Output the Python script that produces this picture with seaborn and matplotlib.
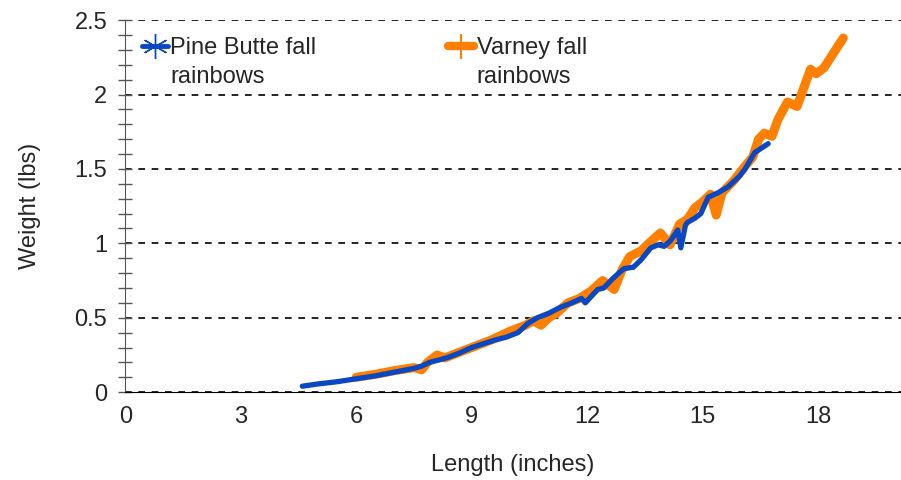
import pandas as pd
import seaborn as sns
import matplotlib.pyplot as plt
from matplotlib.lines import Line2D
from matplotlib.ticker import MultipleLocator

# Pine Butte fall rainbows
pine_len = [4.6, 5.0, 5.5, 6.0, 6.5, 7.0, 7.5, 7.7, 7.9, 8.2, 8.4, 8.7, 9.0, 9.3,
            9.6, 9.9, 10.2, 10.45, 10.7, 11.0, 11.3, 11.6, 11.85, 11.95, 12.27,
            12.43, 12.65, 12.82, 12.95, 13.2, 13.4, 13.65, 13.84, 14.0, 14.17,
            14.35, 14.43, 14.55, 14.6, 14.8, 14.95, 15.14, 15.4, 15.66, 15.95,
            16.1, 16.35, 16.7]
pine_wt = [0.04, 0.055, 0.07, 0.09, 0.11, 0.135, 0.16, 0.175, 0.20, 0.22, 0.235,
           0.265, 0.30, 0.325, 0.35, 0.37, 0.40, 0.46, 0.50, 0.53, 0.57, 0.60,
           0.63, 0.60, 0.69, 0.70, 0.76, 0.80, 0.83, 0.84, 0.89, 0.97, 0.99, 0.98,
           1.02, 1.09, 0.97, 1.12, 1.14, 1.17, 1.20, 1.31, 1.34, 1.38, 1.45,
           1.50, 1.61, 1.67]

# Varney fall rainbows
varney_len = [6.0, 6.5, 7.0, 7.5, 7.7, 7.85, 8.1, 8.3, 8.6, 9.0, 9.5, 10.0, 10.4,
              10.6, 10.8, 11.0, 11.2, 11.5, 11.8, 12.1, 12.4, 12.7, 12.9, 13.1,
              13.4, 13.6, 13.9, 14.15, 14.4, 14.6, 14.8, 15.0, 15.2, 15.35, 15.5,
              15.8, 16.1, 16.3, 16.45, 16.6, 16.8, 16.95, 17.2, 17.45, 17.8,
              17.95, 18.15, 18.65]
varney_wt = [0.10, 0.12, 0.145, 0.165, 0.15, 0.20, 0.25, 0.23, 0.26, 0.30, 0.35,
             0.41, 0.45, 0.48, 0.45, 0.50, 0.53, 0.60, 0.63, 0.68, 0.75, 0.69,
             0.82, 0.91, 0.95, 1.00, 1.07, 0.99, 1.13, 1.16, 1.24, 1.28, 1.33,
             1.19, 1.34, 1.42, 1.52, 1.58, 1.70, 1.74, 1.72, 1.83, 1.95, 1.92,
             2.17, 2.14, 2.18, 2.38]

x_ticks = [0, 3, 6, 9, 12, 15, 18]
y_ticks = [0, 0.5, 1, 1.5, 2, 2.5]
y_labels = ['0', '0.5', '1', '1.5', '2', '2.5']

sns.set_style('white')
plt.rcParams['font.family'] = ['Liberation Sans', 'DejaVu Sans']

blue = '#0a47c2'
orange = '#ff8000'
fs = 17

fig = plt.figure(figsize=(9.01, 4.8), dpi=100)
ax = fig.add_axes([0.139, 0.183, 0.861, 0.775])

pine = pd.DataFrame({'len': pine_len, 'wt': pine_wt})
varney = pd.DataFrame({'len': varney_len, 'wt': varney_wt})

sns.lineplot(data=varney, x='len', y='wt', color=orange, linewidth=6.5, sort=False,
             solid_capstyle='round', solid_joinstyle='round', ax=ax, zorder=3)
sns.lineplot(data=pine, x='len', y='wt', color=blue, linewidth=3.8, sort=False,
             solid_capstyle='round', solid_joinstyle='round', ax=ax, zorder=4)

ax.set_xlim(0, 20.15)
ax.set_ylim(0, 2.5)
ax.set_xticks(x_ticks)
ax.set_xticklabels([str(t) for t in x_ticks])
ax.set_yticks(y_ticks)
ax.set_yticklabels(y_labels)
ax.yaxis.set_minor_locator(MultipleLocator(0.1))
ax.tick_params(axis='y', which='both', left=True, direction='inout', length=10,
               width=1, color='#555555', labelsize=fs, pad=8)
ax.tick_params(axis='x', bottom=False, length=0, labelsize=fs, pad=10)

ax.grid(axis='y', which='major', color='black', linestyle=(0, (4, 4)), linewidth=1.2)
ax.set_axisbelow(True)
for side in ['top', 'right']:
    ax.spines[side].set_visible(False)
ax.spines['left'].set_color('#555555')
ax.spines['bottom'].set_color('black')
ax.spines['bottom'].set_zorder(5)

ax.set_xlabel('Length (inches)', fontsize=fs, labelpad=19)
ax.set_ylabel('Weight (lbs)', fontsize=fs, labelpad=24)

handles = [
    Line2D([], [], color=blue, linewidth=3.5, marker=(6, 2, 0), markersize=18,
           markeredgewidth=1, markeredgecolor=blue),
    Line2D([], [], color=orange, linewidth=6, marker='|', markersize=18,
           markeredgewidth=1.5, markeredgecolor=orange, solid_capstyle='round'),
]
leg = ax.legend(handles, ['Pine Butte fall\nrainbows', 'Varney fall\nrainbows'],
                loc='upper left', bbox_to_anchor=(0.0, 1.0), ncol=2, frameon=False,
                fontsize=fs, handlelength=1.1, handletextpad=0.1, columnspacing=5.6,
                borderaxespad=0.2, borderpad=0.5)
for t in leg.get_texts():
    t.set_linespacing(1.44)
# put the legend keys next to the first text line
for ln in leg.findobj(Line2D):
    ln.set_ydata([y + 12 for y in ln.get_ydata()])

plt.savefig('out.png', dpi=100)
plt.close()
